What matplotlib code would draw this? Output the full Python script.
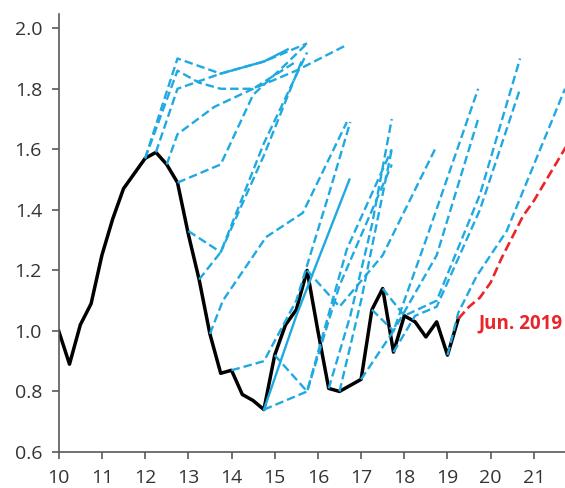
import numpy as np
import matplotlib
matplotlib.use("Agg")
from matplotlib import pyplot as plt

# actual series (quarterly)
t_actual = np.arange(10.0, 19.26, 0.25)
actual = [1.00, 0.89, 1.02, 1.09, 1.25, 1.37, 1.47, 1.52, 1.57, 1.59, 1.55, 1.49,
          1.32, 1.17, 0.99, 0.86, 0.87, 0.79, 0.77, 0.74, 0.92, 1.02, 1.07, 1.20,
          1.00, 0.81, 0.80, 0.82, 0.84, 1.07, 1.14, 0.93, 1.05, 1.03, 0.98, 1.03,
          0.92, 1.04]

# past forecasts (dashed blue)
fc_x = [
    [12.0, 12.75, 13.75, 14.75, 15.75],
    [12.0, 12.75, 13.25, 13.75, 14.5, 15.5],
    [12.25, 12.75, 13.75],
    [12.5, 12.75, 13.6, 14.5, 15.5, 16.67],
    [12.75, 13.75, 14.5, 15.25, 15.75],
    [13.0, 13.75, 14.75, 15.62],
    [13.25, 13.75, 14.75, 15.75],
    [13.5, 13.8, 14.8, 15.65, 16.67],
    [14.0, 14.75, 15.5, 16.25, 16.75],
    [14.75, 15.75, 16.67, 17.71],
    [15.0, 15.75, 16.5, 17.71],
    [15.75, 16.5, 17.5, 18.71],
    [16.25, 16.75, 17.25, 17.71],
    [16.5, 17.0, 17.71],
    [17.0, 17.75, 18.5, 19.71],
    [17.25, 17.75, 18.75, 19.71],
    [17.5, 18.0, 18.75, 19.75, 20.68],
    [17.75, 18.25, 18.75, 19.75, 20.68],
    [19.0, 19.25, 19.67, 20.37, 21.72],
]
fc_y = [
    [1.57, 1.90, 1.85, 1.89, 1.95],
    [1.57, 1.86, 1.82, 1.80, 1.80, 1.89],
    [1.59, 1.80, 1.85],
    [1.55, 1.65, 1.74, 1.80, 1.86, 1.945],
    [1.49, 1.55, 1.78, 1.88, 1.95],
    [1.33, 1.26, 1.58, 1.89],
    [1.17, 1.26, 1.62, 1.92],
    [0.99, 1.10, 1.31, 1.39, 1.69],
    [0.87, 0.90, 1.10, 1.45, 1.69],
    [0.74, 0.80, 1.27, 1.60],
    [0.92, 0.80, 1.15, 1.55],
    [1.20, 1.08, 1.25, 1.60],
    [0.81, 1.05, 1.35, 1.70],
    [0.80, 1.10, 1.60],
    [0.84, 1.00, 1.30, 1.80],
    [1.07, 1.00, 1.25, 1.70],
    [1.14, 1.05, 1.10, 1.45, 1.90],
    [0.93, 1.05, 1.08, 1.40, 1.80],
    [0.92, 1.06, 1.18, 1.33, 1.80],
]

# forecasts drawn solid
solid_x = [[13.75, 14.75, 15.3], [14.75, 15.5, 16.73]]
solid_y = [[1.85, 1.89, 1.93], [0.74, 1.05, 1.50]]

# latest forecast (Jun. 2019)
red_x = [19.25, 19.5, 19.75, 20.0, 20.25, 20.5, 20.75, 21.0, 21.25, 21.5, 21.75]
red_y = [1.04, 1.08, 1.11, 1.16, 1.24, 1.31, 1.38, 1.43, 1.49, 1.55, 1.61]

xticks = list(range(10, 22))
yticks = [0.6, 0.8, 1.0, 1.2, 1.4, 1.6, 1.8, 2.0]

plt.rcParams['font.family'] = ['Open Sans', 'DejaVu Sans']

fig = plt.figure(figsize=(5.65, 4.88), dpi=100)
ax = fig.add_axes([0.1039, 0.0738, 0.8961, 0.8975])

blue = '#1FA9E1'
ax.plot(t_actual, actual, color='black', lw=2.5, zorder=2)
for xs, ys in zip(fc_x, fc_y):
    ax.plot(xs, ys, color=blue, lw=1.7, dashes=(3.6, 1.7), zorder=3)
for xs, ys in zip(solid_x, solid_y):
    ax.plot(xs, ys, color=blue, lw=1.7, zorder=3)
ax.plot(red_x, red_y, color='#E8262A', lw=1.9, dashes=(3.6, 1.7), zorder=3)

ax.text(19.71, 1.026, 'Jun. 2019', color='#E8262A', fontsize=13.5,
        fontweight='bold', va='center', ha='left')

ax.set_xlim(10, 21.72)
ax.set_ylim(0.6, 2.047)
ax.set_xticks(xticks)
ax.set_yticks(yticks)
ax.set_yticklabels(['%.1f' % v for v in yticks])
ax.tick_params(colors='#595959', labelcolor='#333333', labelsize=14,
               length=5, width=1.2)
ax.tick_params(axis='x', pad=7)
ax.tick_params(axis='y', pad=7)
for s in ['top', 'right']:
    ax.spines[s].set_visible(False)
for s in ['left', 'bottom']:
    ax.spines[s].set_color('#595959')
    ax.spines[s].set_linewidth(1.2)

fig.savefig('out.png', dpi=100)
